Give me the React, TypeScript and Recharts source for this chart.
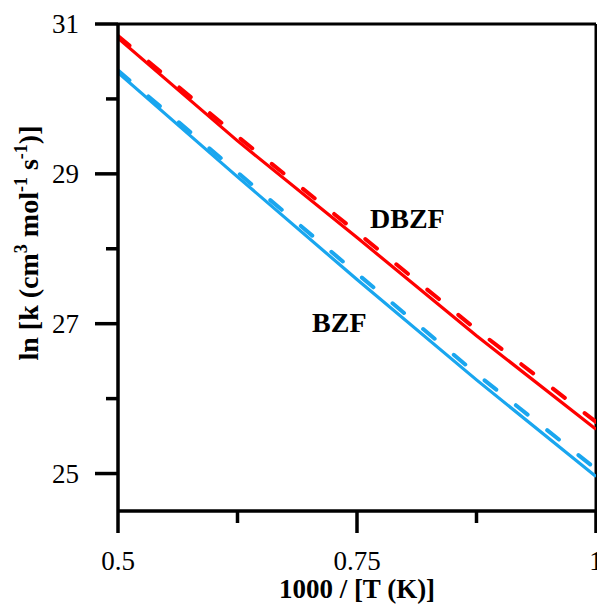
import React from 'react';
import { LineChart, Line, XAxis, YAxis, ReferenceLine, ReferenceDot } from 'recharts';

// 1000/T values where the curves were read
const xValues = [0.5, 0.625, 0.75, 0.875, 1];

// ln k
const dbzfSolid = [30.81, 29.44, 28.15, 26.84, 25.59];
const dbzfDashed = [30.84, 29.5, 28.22, 26.92, 25.69];
const bzfSolid = [30.35, 28.96, 27.59, 26.25, 24.96];
const bzfDashed = [30.38, 29.02, 27.67, 26.33, 25.06];

const xTicks = [0.5, 0.625, 0.75, 0.875, 1];
const xTickLabels: Record<string, string> = { '0.5': '0.5', '0.75': '0.75', '1': '1' };
const yTicks = [25, 26, 27, 28, 29, 30, 31];
const yTickLabels: Record<string, string> = { '25': '25', '27': '27', '29': '29', '31': '31' };

const toPoints = (ys: number[]) => xValues.map((x, i) => ({ x, y: ys[i] }));

const RED = '#ff0000';
const BLUE = '#19a6ef';
const FONT = '"Liberation Serif", "Times New Roman", serif';

const XTick = (props: any) => {
  const { x, y, payload } = props;
  const label = xTickLabels[String(payload.value)];
  return (
    <g>
      <line x1={x} y1={y} x2={x} y2={y + (label ? 22 : 12)} stroke="#000" strokeWidth={3.5} />
      {label && (
        <text x={x} y={y + 59} textAnchor="middle" fontFamily={FONT} fontSize={27} fill="#000">
          {label}
        </text>
      )}
    </g>
  );
};

const YTick = (props: any) => {
  const { x, y, payload } = props;
  const label = yTickLabels[String(payload.value)];
  return (
    <g>
      <line x1={x} y1={y} x2={x - (label ? 23 : 12)} y2={y} stroke="#000" strokeWidth={3.5} />
      {label && (
        <text x={x - 39} y={y + 9} textAnchor="end" fontFamily={FONT} fontSize={27} fill="#000">
          {label}
        </text>
      )}
    </g>
  );
};

const XTitle = (props: any) => {
  const vb = props.viewBox;
  return (
    <text x={vb.x + vb.width / 2} y={vb.y + 87} textAnchor="middle" fontFamily={FONT} fontSize={27} fontWeight="bold" fill="#000">
      1000 / [T (K)]
    </text>
  );
};

const YTitle = (props: any) => {
  const vb = props.viewBox;
  const cx = vb.x + 38;
  const cy = 243;
  return (
    <text x={cx} y={cy} transform={`rotate(-90 ${cx} ${cy})`} textAnchor="middle" fontFamily={FONT} fontSize={28} fontWeight="bold" fill="#000">
      ln [k (cm
      <tspan dy={-11} fontSize={18}>3</tspan>
      <tspan dy={11}> mol</tspan>
      <tspan dy={-11} fontSize={18}>-1</tspan>
      <tspan dy={11}> s</tspan>
      <tspan dy={-11} fontSize={18}>-1</tspan>
      <tspan dy={11}>)]</tspan>
    </text>
  );
};

const seriesLabel = (text: string) => (p: any) => (
  <text x={p.cx} y={p.cy} fontFamily={FONT} fontSize={28} fontWeight="bold" fill="#000">
    {text}
  </text>
);

export default function App() {
  return (
    <div style={{ position: 'absolute', left: 0, top: 0, width: 597, height: 608, background: '#fff' }}>
      <LineChart width={597} height={608} margin={{ top: 24, right: 1, bottom: 0, left: 0 }}>
        <XAxis
          dataKey="x"
          type="number"
          domain={[0.5, 1]}
          ticks={xTicks}
          interval={0}
          allowDataOverflow
          height={97}
          tickSize={0}
          tickMargin={0}
          tickLine={false}
          axisLine={{ stroke: '#000', strokeWidth: 3.5 }}
          tick={XTick}
          label={XTitle}
        />
        <YAxis
          type="number"
          domain={[24.5, 31]}
          ticks={yTicks}
          interval={0}
          allowDataOverflow
          width={118}
          tickSize={0}
          tickMargin={0}
          tickLine={false}
          axisLine={{ stroke: '#000', strokeWidth: 3.5 }}
          tick={YTick}
          label={YTitle}
        />
        <ReferenceLine y={31} stroke="#000" strokeWidth={3} />
        <ReferenceLine x={1} stroke="#000" strokeWidth={3} />
        <Line data={toPoints(dbzfSolid)} dataKey="y" type="linear" stroke={RED} strokeWidth={3.2} dot={false} isAnimationActive={false} />
        <Line data={toPoints(dbzfDashed)} dataKey="y" type="linear" stroke={RED} strokeWidth={4} strokeDasharray="15 25" strokeLinecap="round" dot={false} isAnimationActive={false} />
        <Line data={toPoints(bzfSolid)} dataKey="y" type="linear" stroke={BLUE} strokeWidth={3.2} dot={false} isAnimationActive={false} />
        <Line data={toPoints(bzfDashed)} dataKey="y" type="linear" stroke={BLUE} strokeWidth={4} strokeDasharray="15 25" strokeLinecap="round" dot={false} isAnimationActive={false} />
        <ReferenceDot x={0.7636} y={28.28} r={0} shape={seriesLabel('DBZF')} />
        <ReferenceDot x={0.703} y={26.89} r={0} shape={seriesLabel('BZF')} />
      </LineChart>
    </div>
  );
}
